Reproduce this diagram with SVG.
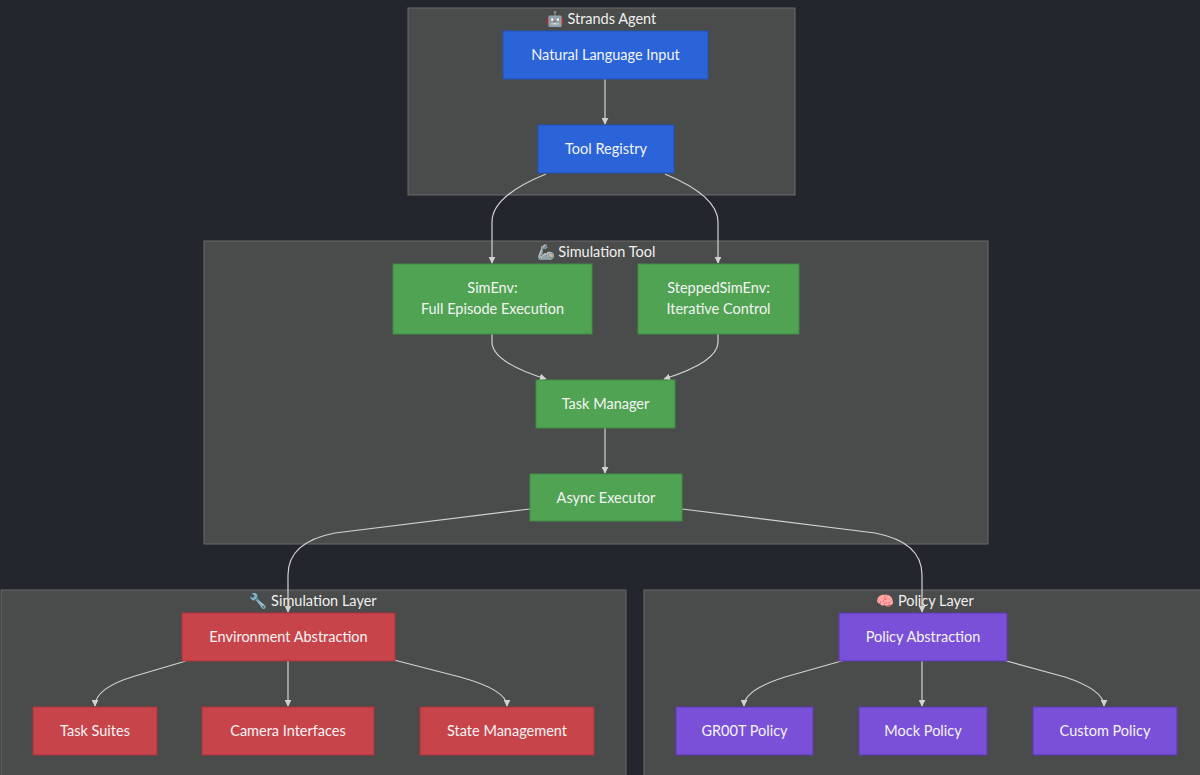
<svg xmlns="http://www.w3.org/2000/svg" width="1200" height="775" viewBox="0 0 1200 775">
<defs>
<style>
.cl{fill:#4a4b4b;stroke:#6a6b6b;stroke-width:1}
.ct{font-family:Lato,"Open Sans","Noto Sans",sans-serif;font-size:14.5px;fill:#f0f0f0;text-anchor:middle}
.t{font-family:Lato,"Open Sans","Noto Sans",sans-serif;font-size:14.5px;fill:#f4f4f4;text-anchor:middle}
.blue{fill:#2b63d8;stroke:#2452b8;stroke-width:1}
.green{fill:#50a352;stroke:#3f8d42;stroke-width:1}
.red{fill:#c8444b;stroke:#a9353c;stroke-width:1}
.purple{fill:#7a50d8;stroke:#5f3bb5;stroke-width:1}
.e{fill:none;stroke:#d2d2d2;stroke-width:1.2}
</style>
<marker id="ah" viewBox="0 0 10 10" refX="9" refY="5" markerWidth="7" markerHeight="7" orient="auto-start-reverse" markerUnits="userSpaceOnUse">
<path d="M0,0 L10,5 L0,10 z" fill="#d2d2d2"/>
</marker>
</defs>
<rect x="0" y="0" width="1200" height="775" fill="#23262c"/>

<g id="cluster-strands">
<rect class="cl" x="408" y="8" width="387" height="187"/>
<text class="ct" x="601" y="24">🤖 Strands Agent</text>
</g>
<g id="cluster-simtool">
<rect class="cl" x="204" y="241" width="784" height="303"/>
<text class="ct" x="596" y="257">🦾 Simulation Tool</text>
</g>
<g id="cluster-simlayer">
<rect class="cl" x="1" y="590" width="625" height="190"/>
<text class="ct" x="313" y="606">🔧 Simulation Layer</text>
</g>
<g id="cluster-policy">
<rect class="cl" x="644" y="590" width="560" height="190"/>
<text class="ct" x="925" y="606">🧠 Policy Layer</text>
</g>

<g id="connectors">
<path class="e" d="M605,79 L605,124" marker-end="url(#ah)"/>
<path class="e" d="M546,174 Q492,196 492,222 L492,263" marker-end="url(#ah)"/>
<path class="e" d="M665,174 Q718,196 718,222 L718,263" marker-end="url(#ah)"/>
<path class="e" d="M492,334 L492,342 Q492,362 546,379" marker-end="url(#ah)"/>
<path class="e" d="M718,334 L718,342 Q718,362 664,379" marker-end="url(#ah)"/>
<path class="e" d="M605,428 L605,473" marker-end="url(#ah)"/>
<path class="e" d="M530,509 L335,533 Q288,542 288,575 L288,612" marker-end="url(#ah)"/>
<path class="e" d="M682,509 L875,533 Q922,542 922,575 L922,612" marker-end="url(#ah)"/>
<path class="e" d="M186,661 L135,676 Q95,688 95,706" marker-end="url(#ah)"/>
<path class="e" d="M288,661 L288,706" marker-end="url(#ah)"/>
<path class="e" d="M394,660 L460,677 Q507,690 507,706" marker-end="url(#ah)"/>
<path class="e" d="M845,660 L785,677 Q744,690 744,706" marker-end="url(#ah)"/>
<path class="e" d="M922,661 L922,706" marker-end="url(#ah)"/>
<path class="e" d="M1003,660 L1065,677 Q1104,690 1104,706" marker-end="url(#ah)"/>
</g>

<g id="node-nli">
<rect class="blue" x="503" y="31" width="205" height="48"/>
<text class="t" x="605.5" y="60">Natural Language Input</text>
</g>
<g id="node-toolreg">
<rect class="blue" x="538" y="125" width="136" height="48"/>
<text class="t" x="606" y="154">Tool Registry</text>
</g>
<g id="node-simenv">
<rect class="green" x="393" y="264" width="199" height="70"/>
<text class="t" x="492.5" y="293">SimEnv:</text>
<text class="t" x="492.5" y="314">Full Episode Execution</text>
</g>
<g id="node-stepped">
<rect class="green" x="638" y="264" width="161" height="70"/>
<text class="t" x="718.5" y="293">SteppedSimEnv:</text>
<text class="t" x="718.5" y="314">Iterative Control</text>
</g>
<g id="node-taskmgr">
<rect class="green" x="536" y="380" width="139" height="48"/>
<text class="t" x="605.5" y="409">Task Manager</text>
</g>
<g id="node-async">
<rect class="green" x="530" y="474" width="152" height="47"/>
<text class="t" x="606" y="503">Async Executor</text>
</g>
<g id="node-envabs">
<rect class="red" x="182" y="613" width="213" height="48"/>
<text class="t" x="288.5" y="642">Environment Abstraction</text>
</g>
<g id="node-tasksuites">
<rect class="red" x="33" y="707" width="124" height="48"/>
<text class="t" x="95" y="736">Task Suites</text>
</g>
<g id="node-camera">
<rect class="red" x="202" y="707" width="172" height="48"/>
<text class="t" x="288" y="736">Camera Interfaces</text>
</g>
<g id="node-state">
<rect class="red" x="420" y="707" width="174" height="48"/>
<text class="t" x="507" y="736">State Management</text>
</g>
<g id="node-policyabs">
<rect class="purple" x="839" y="613" width="168" height="48"/>
<text class="t" x="923" y="642">Policy Abstraction</text>
</g>
<g id="node-groot">
<rect class="purple" x="676" y="707" width="137" height="48"/>
<text class="t" x="744.5" y="736">GR00T Policy</text>
</g>
<g id="node-mock">
<rect class="purple" x="859" y="707" width="128" height="48"/>
<text class="t" x="923" y="736">Mock Policy</text>
</g>
<g id="node-custom">
<rect class="purple" x="1033" y="707" width="144" height="48"/>
<text class="t" x="1105" y="736">Custom Policy</text>
</g>
</svg>
